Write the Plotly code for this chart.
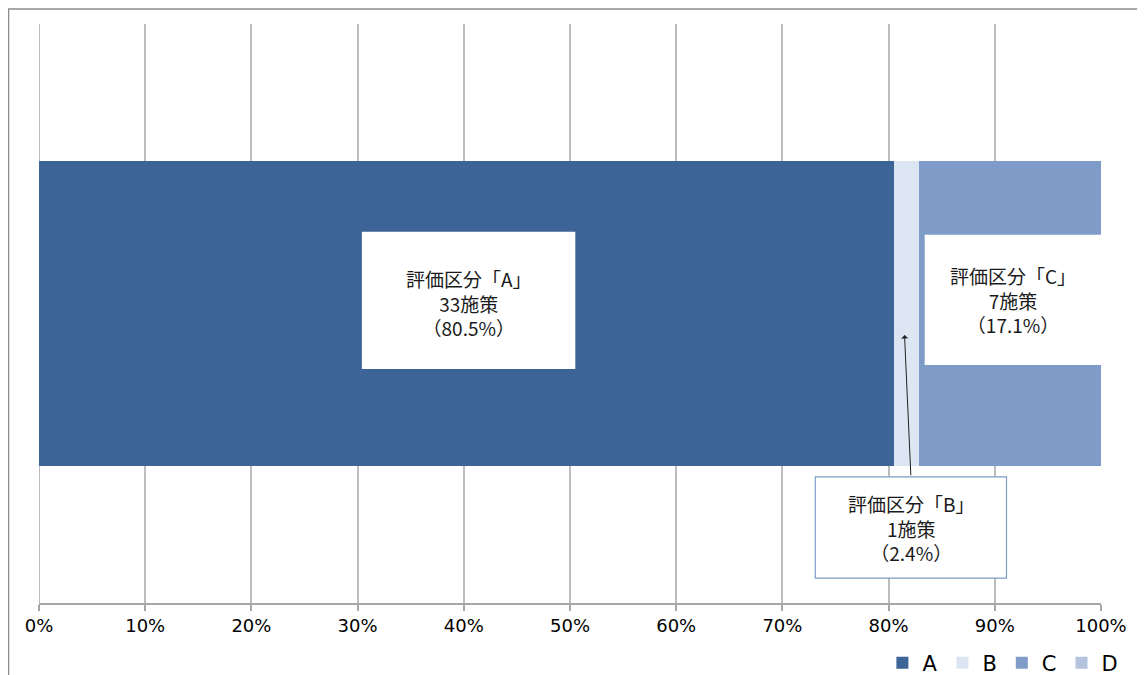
import plotly.graph_objects as go

categories = ["A", "B", "C", "D"]
values = [80.5, 2.4, 17.1, 0.0]
counts = [33, 1, 7, 0]
colors = ["#3C6496", "#DCE6F2", "#7F9CC8", "#B4C3DE"]
tick_vals = [0, 10, 20, 30, 40, 50, 60, 70, 80, 90, 100]
tick_text = [f"{v}%" for v in tick_vals]

fig = go.Figure()
for cat, val, col in zip(categories, values, colors):
    fig.add_trace(go.Bar(
        x=[val], y=[0], orientation="h", name=cat,
        marker=dict(color=col, line=dict(width=0)),
        width=0.528, hoverinfo="skip",
    ))

jp_font = dict(family="Noto Sans CJK JP", size=19, color="#1a1a1a")

def label(i):
    return f"評価区分「{categories[i]}」<br>{counts[i]}施策<br>（{values[i]}%）"

shapes = [
    # outer chart frame
    dict(type="rect", xref="paper", yref="paper", x0=-0.0287, x1=1.2, y0=-0.3, y1=1.026,
         line=dict(color="#8c8c8c", width=1.5), fillcolor="rgba(0,0,0,0)", layer="below"),
    # label boxes
    dict(type="rect", xref="x", yref="y", x0=30.4, x1=50.5, y0=-0.096, y1=0.141,
         fillcolor="white", line=dict(width=0)),
    dict(type="rect", xref="x", yref="y", x0=83.4, x1=100, y0=-0.089, y1=0.136,
         fillcolor="white", line=dict(width=0)),
    dict(type="rect", xref="x", yref="y", x0=73.1, x1=91.1, y0=-0.457, y1=-0.282,
         fillcolor="white", line=dict(color="#7F9CC8", width=1.2)),
]

annotations = [
    dict(x=40.45, y=0.019, xref="x", yref="y", text=label(0), showarrow=False, font=jp_font),
    dict(x=91.7, y=0.024, xref="x", yref="y", text=label(2), showarrow=False, font=jp_font),
    dict(x=82.1, y=-0.37, xref="x", yref="y", text=label(1), showarrow=False, font=jp_font),
    dict(x=81.5, y=-0.037, xref="x", yref="y", ax=82.1, ay=-0.282, axref="x", ayref="y",
         text="", showarrow=True, arrowhead=1, arrowsize=1.2, arrowwidth=1, arrowcolor="#222222"),
]

# page body has an 8px margin, so the figure is sized and offset accordingly
fig.update_layout(
    width=1137, height=667,
    margin=dict(l=31, r=44, t=16, b=72, autoexpand=False),
    paper_bgcolor="white", plot_bgcolor="white",
    barmode="stack", bargap=0,
    showlegend=True,
    legend=dict(orientation="h", xref="container", yref="container",
                x=0.981, xanchor="right", y=0.018, yanchor="middle",
                font=dict(family="DejaVu Sans", size=21, color="#000000"),
                traceorder="normal", itemwidth=30, bgcolor="rgba(0,0,0,0)"),
    xaxis=dict(range=[0, 100], tickvals=tick_vals, ticktext=tick_text,
               showgrid=True, gridcolor="#bdbdbd", gridwidth=1.5,
               showline=True, linecolor="#a6a6a6", linewidth=1.5,
               ticks="outside", ticklen=6, tickcolor="#a6a6a6", tickwidth=1.5,
               tickfont=dict(family="DejaVu Sans", size=18, color="#000000"),
               zeroline=False, fixedrange=True),
    yaxis=dict(range=[-0.5, 0.5], showticklabels=False, showgrid=False, zeroline=False,
               showline=False, fixedrange=True),
    shapes=shapes,
    annotations=annotations,
)
# left axis line at 0%
fig.add_shape(type="line", xref="x", yref="paper", x0=0, x1=0, y0=0, y1=1,
              line=dict(color="#a6a6a6", width=1.5), layer="below")

fig.write_html("out.html")
